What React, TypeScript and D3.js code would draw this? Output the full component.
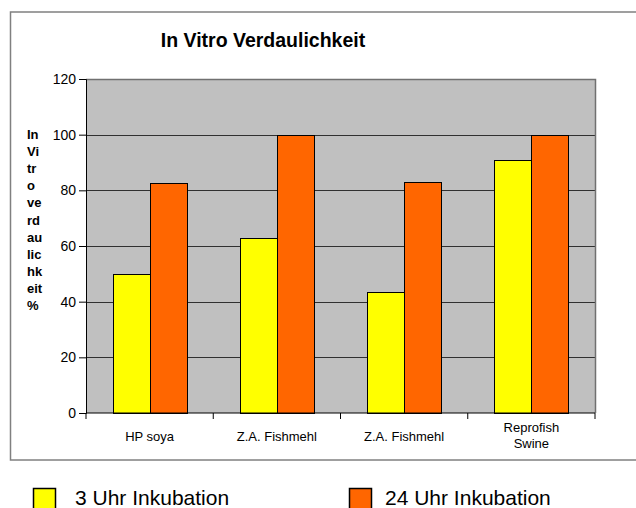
import React, { useRef, useEffect } from "react";
import * as d3 from "d3";

const categories = [["HP soya"], ["Z.A. Fishmehl"], ["Z.A. Fishmehl"], ["Reprofish", "Swine"]];
const seriesNames = ["3 Uhr Inkubation", "24 Uhr Inkubation"];
const seriesColors = ["#FFFF00", "#FF6600"];
const values3h = [50, 63, 43.5, 91];
const values24h = [82.7, 100, 83, 100];
const yTicks = [0, 20, 40, 60, 80, 100, 120];
const yTitleLines = ["In", "Vi", "tr", "o", "ve", "rd", "au", "lic", "hk", "eit", "%"];

const App = () => {
  const ref = useRef<SVGSVGElement>(null);

  useEffect(() => {
    const left = 86;
    const right = 595;
    const top = 79;
    const bottom = 413;
    const font = "Arial, 'Liberation Sans', sans-serif";

    const svg = d3.select(ref.current);
    svg.selectAll("*").remove();

    // outer chart frame
    svg
      .append("rect")
      .attr("x", 10.5)
      .attr("y", 12)
      .attr("width", 640)
      .attr("height", 448)
      .attr("fill", "white")
      .attr("stroke", "#808080")
      .attr("stroke-width", 1.5);

    const x0 = d3
      .scaleBand<number>()
      .domain(d3.range(categories.length))
      .range([left, right]);
    const x1 = d3
      .scaleBand<number>()
      .domain([0, 1])
      .range([0, x0.bandwidth()])
      .paddingOuter(0.72);
    const y = d3.scaleLinear().domain([0, 120]).range([bottom, top]);

    // plot area
    svg
      .append("rect")
      .attr("x", left)
      .attr("y", top)
      .attr("width", right - left)
      .attr("height", bottom - top)
      .attr("fill", "#C0C0C0");

    // gridlines
    svg
      .append("g")
      .selectAll("line")
      .data(yTicks.filter((t) => t > 0 && t < 120))
      .join("line")
      .attr("x1", left)
      .attr("x2", right)
      .attr("y1", (d) => Math.round(y(d)) + 0.5)
      .attr("y2", (d) => Math.round(y(d)) + 0.5)
      .attr("stroke", "#303030")
      .attr("stroke-width", 1);

    // plot border top/right
    svg
      .append("path")
      .attr("d", `M${left},${top + 0.5}H${right + 0.5}V${bottom}`)
      .attr("fill", "none")
      .attr("stroke", "#707070")
      .attr("stroke-width", 1.5);

    // bars
    const series = [values3h, values24h];
    series.forEach((vals, si) => {
      svg
        .append("g")
        .selectAll("rect")
        .data(vals)
        .join("rect")
        .attr("x", (d, i) => Math.round(x0(i)! + x1(si)!) + 0.5)
        .attr("y", (d) => Math.round(y(d)) + 0.5)
        .attr("width", Math.round(x1.bandwidth()))
        .attr("height", (d) => Math.round(bottom - y(d)))
        .attr("fill", seriesColors[si])
        .attr("stroke", "#000")
        .attr("stroke-width", 1);
    });

    // y axis
    svg
      .append("g")
      .attr("transform", `translate(${left},0)`)
      .call(d3.axisLeft(y).tickValues(yTicks).tickSize(7).tickPadding(3))
      .call((g) => g.selectAll("text").attr("font-size", 14).attr("font-family", font).attr("fill", "#000"))
      .call((g) => g.selectAll("line,path").attr("stroke", "#000"));

    // x axis
    const xAxis = svg.append("g").attr("transform", `translate(0,${bottom})`);
    xAxis
      .append("line")
      .attr("x1", left)
      .attr("x2", right)
      .attr("stroke", "#000");
    xAxis
      .selectAll("line.tick")
      .data(d3.range(categories.length + 1))
      .join("line")
      .attr("class", "tick")
      .attr("x1", (d) => left + d * x0.step())
      .attr("x2", (d) => left + d * x0.step())
      .attr("y1", 0)
      .attr("y2", 6)
      .attr("stroke", "#000");
    categories.forEach((lines, i) => {
      const cx = x0(i)! + x0.bandwidth() / 2;
      const t = svg
        .append("text")
        .attr("text-anchor", "middle")
        .attr("font-family", font)
        .attr("font-size", 13)
        .attr("fill", "#000");
      const startY = lines.length === 1 ? 441 : 432;
      lines.forEach((l, li) => {
        t.append("tspan").attr("x", cx).attr("y", startY + li * 16).text(l);
      });
    });

    // y title
    const yt = svg
      .append("text")
      .attr("font-family", font)
      .attr("font-size", 13)
      .attr("font-weight", "bold")
      .attr("fill", "#000");
    yTitleLines.forEach((l, i) => {
      yt.append("tspan").attr("x", 27).attr("y", 139 + i * 17.1).text(l);
    });

    // title
    svg
      .append("text")
      .attr("x", 263)
      .attr("y", 47)
      .attr("text-anchor", "middle")
      .attr("font-family", font)
      .attr("font-size", 19.5)
      .attr("font-weight", "bold")
      .attr("fill", "#000")
      .text("In Vitro Verdaulichkeit");

    // legend
    const legendBoxX = [33, 349];
    const legendTextX = [75, 385];
    seriesNames.forEach((name, i) => {
      svg
        .append("rect")
        .attr("x", legendBoxX[i] + 0.5)
        .attr("y", 488.5)
        .attr("width", 22)
        .attr("height", 22)
        .attr("fill", seriesColors[i])
        .attr("stroke", "#000")
        .attr("stroke-width", 1.5);
      svg
        .append("text")
        .attr("x", legendTextX[i])
        .attr("y", 505)
        .attr("font-family", font)
        .attr("font-size", 21)
        .attr("fill", "#000")
        .text(name);
    });
  }, []);

  return (
    <svg
      ref={ref}
      width={636}
      height={508}
      style={{ position: "absolute", left: 0, top: 0, background: "white" }}
    />
  );
};

export default App;
